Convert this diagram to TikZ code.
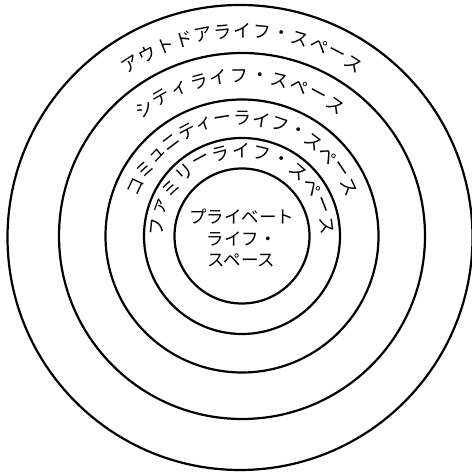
\documentclass[tikz,border=0pt]{standalone}
\usepackage{fontspec}
\newfontfamily\jp{Noto Sans CJK JP}
\tikzset{
  ring/.style={draw=black, line width=2.2pt},
  arcchar/.style={inner sep=0pt, font=\jp\fontsize{18}{20}\selectfont},
  centertext/.style={align=center, inner sep=0pt, font=\jp\fontsize{17.5}{21.5}\selectfont}
}
% \arclabel{prefix}{radius}{start angle}{step}{characters}
\newcommand{\arclabel}[5]{%
  \foreach \ch [count=\k from 0] in {#5} {
    \pgfmathsetmacro{\ang}{#3+\k*(#4)}
    \node[arcchar, rotate=\ang-90] (#1\k) at (\ang:#2) {\ch};
  }%
}
\begin{document}
\begin{tikzpicture}[x=1pt,y=1pt]
\useasboundingbox (0,0) rectangle (471,473);
\fill[white] (0,0) rectangle (471,473);
\coordinate (C) at (242,237);
\coordinate (O) at (240,235.5);
\draw[ring] (O) circle[radius=232.5];
\draw[ring] (C) circle[radius=183];
\draw[ring] (C) circle[radius=136.5];
\draw[ring] (C) circle[radius=98];
\draw[ring] (C) circle[radius=67.5];
\begin{scope}[shift={(C)}]
  \arclabel{a}{205}{123}{-5.5}{ア,ウ,ト,ド,ア,ラ,イ,フ,・,ス,ペ,ー,ス}
  \arclabel{b}{160}{127.5}{-7.3}{シ,テ,ィ,ラ,イ,フ,・,ス,ペ,ー,ス}
  \arclabel{c}{117.5}{155}{-9.3}{コ,ミ,ュ,ニ,テ,ィ,ー,ラ,イ,フ,・,ス,ペ,ー,ス}
  \arclabel{d}{85}{174}{-13.9}{フ,ァ,ミ,リ,ー,ラ,イ,フ,・,ス,ペ,ー,ス}
\end{scope}
\node[centertext] (inner) at (241.5,235) {プライベート\\ライフ・\\スペース};
\end{tikzpicture}
\end{document}
